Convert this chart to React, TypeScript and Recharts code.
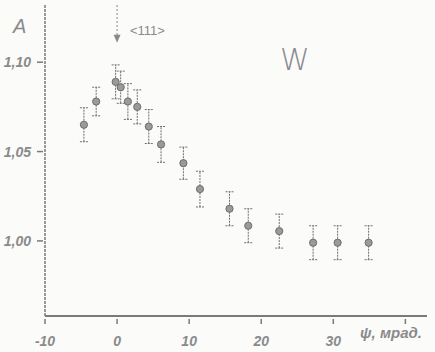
import {
  ScatterChart,
  Scatter,
  XAxis,
  YAxis,
  ErrorBar,
  ReferenceLine,
  ReferenceDot,
} from "recharts"

// angle ψ, mrad
const psi = [-4.6, -2.9, -0.2, 0.5, 1.5, 2.8, 4.4, 6.1, 9.2, 11.5, 15.6, 18.2, 22.5, 27.2, 30.6, 34.9]
// yield ratio A
const yieldA = [1.065, 1.078, 1.089, 1.086, 1.078, 1.075, 1.064, 1.054, 1.0435, 1.029, 1.018, 1.0085, 1.0055, 0.999, 0.999, 0.999]
const errA = [0.0095, 0.008, 0.0095, 0.009, 0.01, 0.0095, 0.0095, 0.01, 0.009, 0.01, 0.0095, 0.0095, 0.0095, 0.0095, 0.0095, 0.0095]

const xTicks = [-10, 0, 10, 20, 30, 40]
const xTickLabels: Record<number, string> = { [-10]: "-10", 0: "0", 10: "10", 20: "20", 30: "30", 40: "" }
const yTicks = [1.0, 1.05, 1.1]
const yTickLabels: Record<string, string> = { "1": "1,00", "1.05": "1,05", "1.1": "1,10" }

const data = psi.map((x, i) => ({ x, y: yieldA[i], err: errA[i] }))

const INK = "#7a7a7a"
const FONT = "'Liberation Sans', Arial, sans-serif"

function XTick(props: any) {
  const { x, y, payload } = props
  return (
    <g>
      <line x1={x} y1={y} x2={x} y2={y - 5} stroke={INK} strokeWidth={1.5} />
      <text
        x={x}
        y={y + 22}
        textAnchor="middle"
        fill="#8a8a8a"
        fontSize={14}
        fontStyle="italic"
        fontWeight="bold"
        fontFamily={FONT}
      >
        {xTickLabels[payload.value]}
      </text>
    </g>
  )
}

function YTick(props: any) {
  const { x, y, payload } = props
  return (
    <g>
      <line x1={x} y1={y} x2={x + 6} y2={y} stroke={INK} strokeWidth={1.5} />
      <text
        x={x - 6}
        y={y + 5}
        textAnchor="end"
        fill="#8a8a8a"
        fontSize={14}
        fontStyle="italic"
        fontWeight="bold"
        fontFamily={FONT}
      >
        {yTickLabels[String(payload.value)]}
      </text>
    </g>
  )
}

function Dot(props: any) {
  const { cx, cy } = props
  return <circle cx={cx} cy={cy} r={3.6} fill="#9a9a9a" stroke="#6e6e6e" strokeWidth={1} />
}

function ArrowHead(props: any) {
  const { cx, cy } = props
  return <path d={`M${cx - 3.5},${cy - 6} L${cx + 3.5},${cy - 6} L${cx},${cy + 2} Z`} fill="#8a8a8a" />
}

export default function App() {
  return (
    <div style={{ position: "absolute", left: 0, top: 0, width: 435, height: 352, background: "#fbfbfa" }}>
      <ScatterChart width={435} height={352} margin={{ top: 5, right: 8, bottom: 0, left: 0 }}>
        <XAxis
          type="number"
          dataKey="x"
          domain={[-10, 43]}
          ticks={xTicks}
          tick={<XTick />}
          tickLine={false}
          height={36}
          axisLine={{ stroke: INK, strokeWidth: 2 }}
          allowDataOverflow
        />
        <YAxis
          type="number"
          dataKey="y"
          domain={[0.958, 1.132]}
          ticks={yTicks}
          tick={<YTick />}
          tickLine={false}
          width={45}
          axisLine={{ stroke: INK, strokeWidth: 1.5, strokeDasharray: "3 1" }}
          allowDataOverflow
        />
        <ReferenceLine
          segment={[
            { x: 0, y: 1.132 },
            { x: 0, y: 1.114 },
          ]}
          stroke="#999"
          strokeWidth={1.2}
          strokeDasharray="2 2"
        />
        <ReferenceDot x={0} y={1.112} shape={<ArrowHead />} />
        <Scatter data={data} shape={<Dot />} isAnimationActive={false}>
          <ErrorBar
            dataKey="err"
            direction="y"
            width={4}
            stroke="#6e6e6e"
            strokeWidth={1}
            strokeDasharray="2 1"
          />
        </Scatter>
      </ScatterChart>
      <div style={{ position: "absolute", left: 13, top: 15, fontFamily: FONT, fontSize: 20, color: "#8a8a8a", fontStyle: "italic" }}>
        A
      </div>
      <div style={{ position: "absolute", left: 130, top: 23, fontFamily: FONT, fontSize: 13, color: "#8a8a8a" }}>
        {"<111>"}
      </div>
      <div style={{ position: "absolute", left: 280, top: 42, fontFamily: "'DejaVu Sans', sans-serif", fontWeight: 200, fontSize: 30, color: "#8a8a8a" }}>
        W
      </div>
      <div style={{ position: "absolute", left: 360, top: 324, fontFamily: FONT, fontSize: 15, color: "#8a8a8a", fontStyle: "italic", fontWeight: "bold" }}>
        ψ, мрад.
      </div>
    </div>
  )
}
